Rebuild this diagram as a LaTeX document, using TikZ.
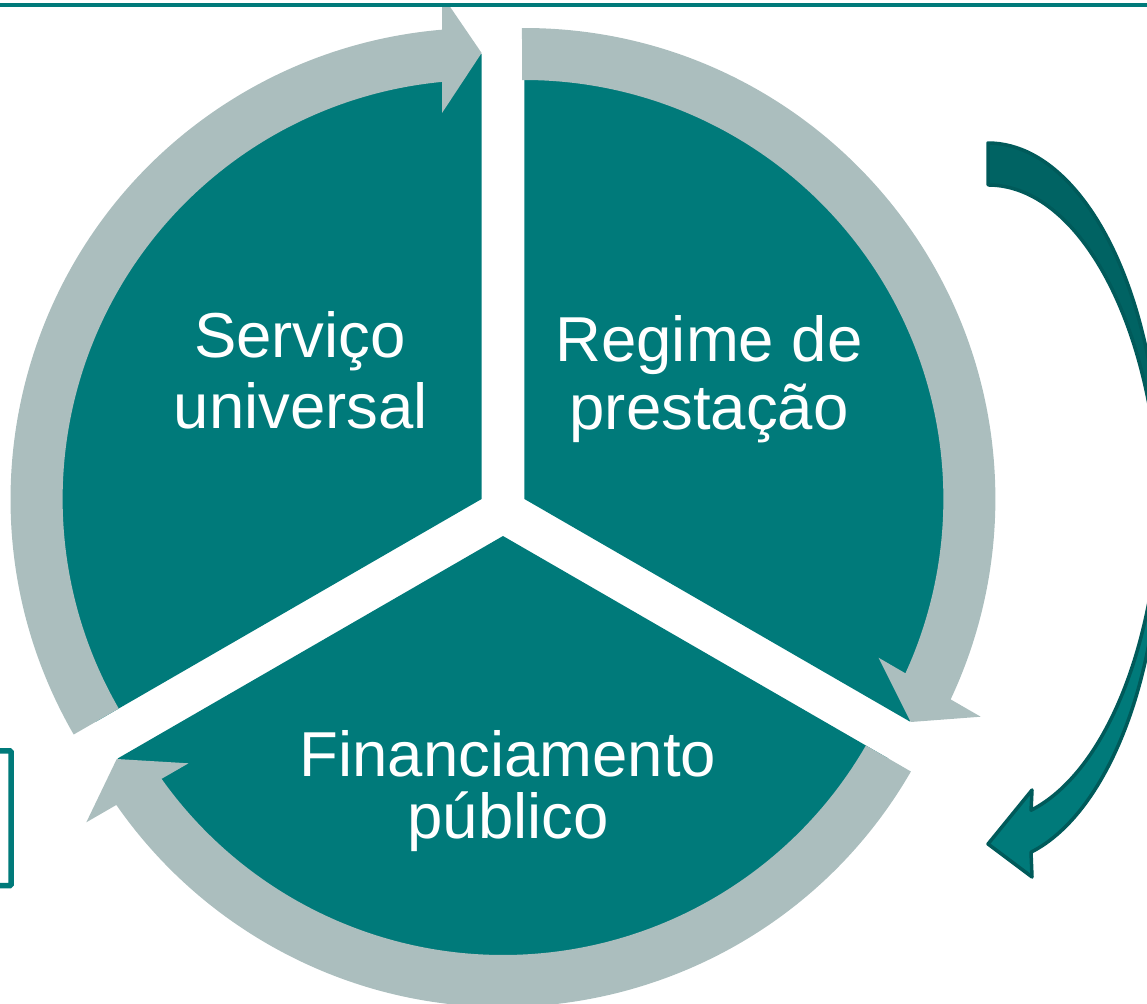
\documentclass[tikz,border=0pt]{standalone}
\usepackage{fontspec}
\setmainfont{Liberation Sans}
\usetikzlibrary{calc}
\definecolor{teal1}{RGB}{0,122,122}
\definecolor{gray1}{RGB}{171,190,190}
\definecolor{tealdark}{RGB}{0,90,90}
\definecolor{tealback}{RGB}{0,99,99}
\tikzset{
  sector/.style={fill=teal1, draw=none},
  ringarrow/.style={fill=gray1, draw=none},
  lbl/.style={text=white, font=\fontsize{63.5}{72}\selectfont, anchor=base, inner sep=0pt},
  bentarrow/.style={draw=tealdark, line width=3.5pt, line join=round},
}
\begin{document}
\begin{tikzpicture}[x=1pt,y=-1pt]
\useasboundingbox (0,0) rectangle (1147,1003);
\clip (0,0) rectangle (1147,1003);

% top rule
\draw[teal1, line width=4pt] (0,5.3) -- (1147,5.3);

% left partial frame
\draw[teal1, line width=5.5pt, rounded corners=1.5pt] (-20,750.8) -| (11.2,885.7) -- (-20,885.7);

% sector vertices
\coordinate (Vl) at (481.6,499);
\coordinate (Vr) at (524.4,499);
\coordinate (Vb) at (503,536);

% pie sectors
\fill[sector] (Vl) -- ++(150:445) arc[start angle=150, end angle=270, radius=445] -- cycle;
\fill[sector] (Vr) -- ++(-90:445) arc[start angle=-90, end angle=30, radius=445] -- cycle;
\fill[sector] (Vb) -- ++(30:445) arc[start angle=30, end angle=150, radius=445] -- cycle;

% circular arrows (each concentric with its sector)
\begin{scope}
\clip (0,8) rectangle (1147,1003);
\fill[ringarrow] ($(Vl)+(150:471)$) arc[start angle=150, end angle=265.18, radius=471]
  -- ($(Vl)+(270:504)+(180:39.6)$) -- ($(Vl)+(270:446)$) -- ($(Vl)+(270:386)+(180:39.6)$)
  -- ($(Vl)+(264.58:419)$) arc[start angle=264.58, end angle=150, radius=419] -- cycle;
\fill[ringarrow] ($(Vr)+(-90.3:471)$) arc[start angle=-90.3, end angle=25.18, radius=471]
  -- ($(Vr)+(30:504)+(-60:39.6)$) -- ($(Vr)+(30:446)$) -- ($(Vr)+(30:386)+(-60:39.6)$)
  -- ($(Vr)+(24.58:419)$) arc[start angle=24.58, end angle=-90.3, radius=419] -- cycle;
\fill[ringarrow] ($(Vb)+(30:471)$) arc[start angle=30, end angle=145.18, radius=471]
  -- ($(Vb)+(150:504)+(60:39.6)$) -- ($(Vb)+(150:446)$) -- ($(Vb)+(150:386)+(60:39.6)$)
  -- ($(Vb)+(144.58:419)$) arc[start angle=144.58, end angle=30, radius=419] -- cycle;
\end{scope}

% curved arrow on the right: back part (darker) and front part
\filldraw[bentarrow, fill=tealback] (988,143) arc[start angle=-90, end angle=3.55, x radius=172, y radius=339]
  arc[start angle=-3.55, end angle=-90, x radius=172, y radius=339] -- cycle;
\filldraw[bentarrow, fill=teal1] (1159.7,503) arc[start angle=3.55, end angle=75.52, x radius=172, y radius=339]
  -- (1032,790) -- (988,844) -- (1032,877) -- (1031,852.2)
  arc[start angle=75.52, end angle=-3.55, x radius=172, y radius=339] -- cycle;

% labels
\node[lbl] (serv1) at (300,357) {Serviço};
\node[lbl] (serv2) at (301,428) {universal};
\node[lbl] (reg1) at (709,361) {Regime de};
\node[lbl] (reg2) at (709,429) {prestação};
\node[lbl] (fin1) at (508,776) {Financiamento};
\node[lbl] (fin2) at (508,838) {público};
\end{tikzpicture}
\end{document}
